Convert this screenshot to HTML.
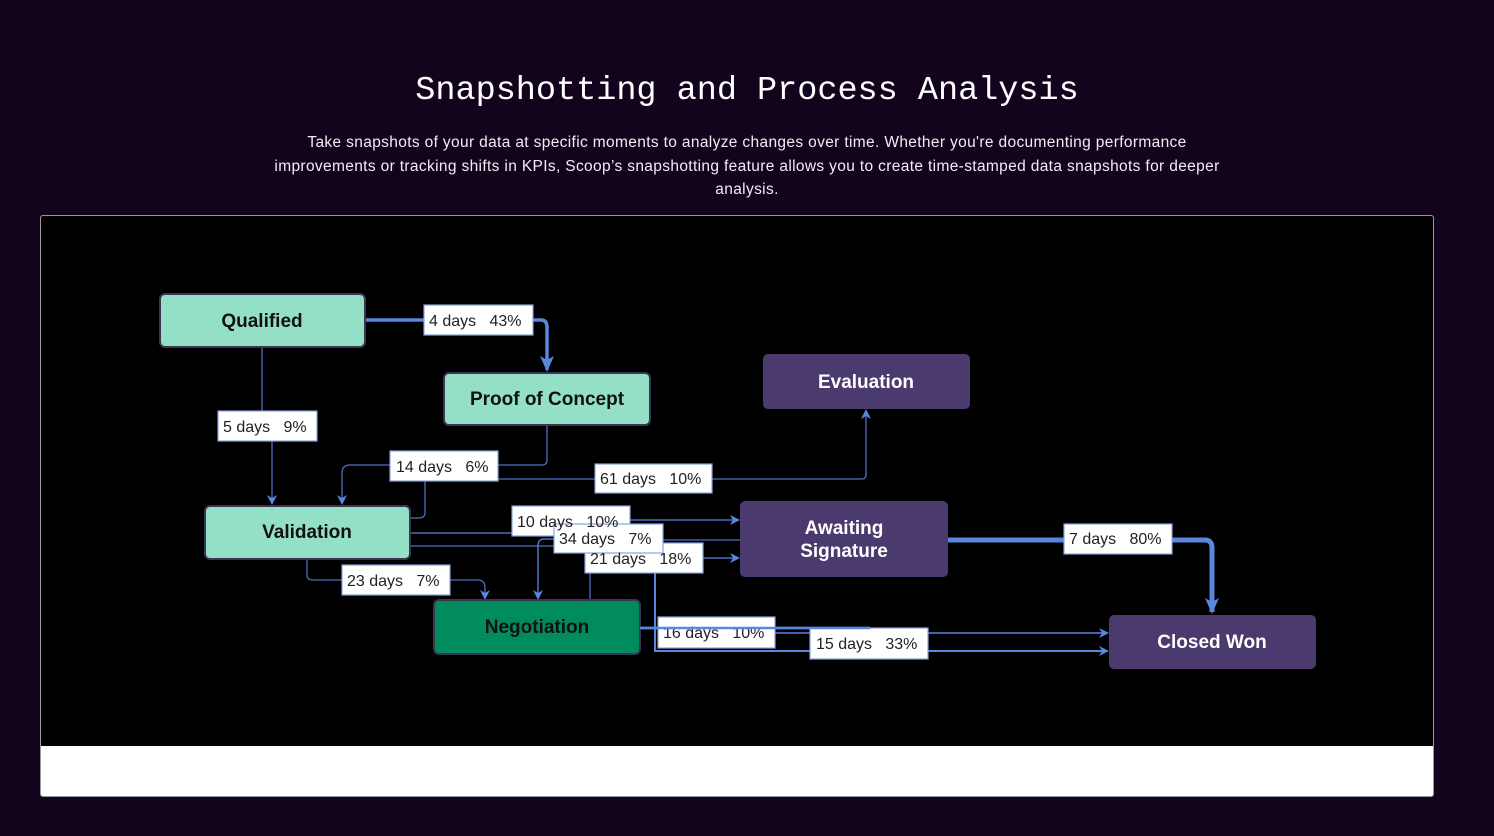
<!DOCTYPE html>
<html><head><meta charset="utf-8"><style>
html,body{margin:0;padding:0;background:#12041c;width:1494px;height:836px;overflow:hidden;font-family:"Liberation Sans",sans-serif}
.t{position:absolute;left:0;width:1494px;top:70px;text-align:center;color:#fff;font-family:"Liberation Mono",monospace;font-size:33.5px;line-height:42px}
.s{position:absolute;left:262px;width:970px;top:131px;text-align:center;color:#f0eef4;font-size:15.5px;line-height:23.5px;letter-spacing:0.35px}
.f{position:absolute;left:40px;top:215px;width:1392px;height:580px;border:1px solid #9a98a0;border-radius:3px;background:#fff;overflow:hidden}
.f .b{position:absolute;left:0;top:0;width:1392px;height:530px;background:#000}
svg{position:absolute;left:0;top:0}
</style></head><body>
<div class="t">Snapshotting and Process Analysis</div>
<div class="s">Take snapshots of your data at specific moments to analyze changes over time. Whether you're documenting performance improvements or tracking shifts in KPIs, Scoop’s snapshotting feature allows you to create time-stamped data snapshots for deeper analysis.</div>
<div class="f"><div class="b"></div></div>
<svg width="1494" height="836" viewBox="0 0 1494 836" font-family="Liberation Sans, sans-serif">
<defs>
<marker id="a" markerWidth="10" markerHeight="10" refX="8" refY="5" orient="auto" markerUnits="userSpaceOnUse"><path d="M0,0 L10,5 L0,10 L3,5 z" fill="#5b86e0"/></marker>
<marker id="A" markerWidth="16" markerHeight="14" refX="14" refY="7" orient="auto" markerUnits="userSpaceOnUse"><path d="M0,0 L16,7 L0,14 L4,7 z" fill="#5b86e0"/></marker>
</defs>
<g fill="none" stroke="#5b86e0" stroke-width="1.3">
<path d="M262,347 V411 M272,441 V503" stroke="#4d6fc0" marker-end="url(#a)"/>
<path d="M547,425 V460 Q547,465 542,465 H350 Q342,465 342,473 V503" stroke="#4d6fc0" marker-end="url(#a)"/>
<path d="M425,481 V513 Q425,518 418,518 H410" stroke="#4d6fc0"/>
<path d="M498,479 H862 Q866,479 866,474 V411" stroke="#4d6fc0" marker-end="url(#a)"/>
<path d="M410,533 H512 M630,520 H738" marker-end="url(#a)"/>
<path d="M410,546 H554 M663,540 H740" stroke="#4d6fc0"/>
<path d="M554,539 H544 Q538,539 538,546 V598" marker-end="url(#a)"/>
<path d="M703,558 H738" marker-end="url(#a)"/>
<path d="M590,600 V573" stroke="#4d6fc0"/>
<path d="M307,559 V575 Q307,580 313,580 H342 M450,580 H478 Q485,580 485,588 V598" stroke="#4d6fc0" marker-end="url(#a)"/>
<path d="M655,573 V651 H810 M928,651 H1107" stroke-width="2" marker-end="url(#a)"/>
<path d="M775,633 H1107" stroke-width="1.5" marker-end="url(#a)"/>
<path d="M640,628 H870" stroke-width="2.5"/>
<path d="M365,320 H424 M533,320 H541 Q547,320 547,327 V370" stroke-width="3.5" marker-end="url(#A)"/>
<path d="M948,540 H1064 M1172,540 H1205 Q1212,540 1212,548 V612" stroke-width="5" marker-end="url(#A)"/>
</g>
<g stroke="#3a3550" stroke-width="2">
<rect x="160" y="294" width="205" height="53" rx="5" fill="#94e0c6"/>
<rect x="444" y="373" width="206" height="52" rx="5" fill="#94e0c6"/>
<rect x="205" y="506" width="205" height="53" rx="5" fill="#94e0c6"/>
<rect x="434" y="600" width="206" height="54" rx="5" fill="#008c5c"/>
<rect x="763" y="354" width="207" height="55" rx="5" fill="#4a3a6e" stroke="none"/>
<rect x="740" y="501" width="208" height="76" rx="5" fill="#4a3a6e" stroke="none"/>
<rect x="1109" y="615" width="207" height="54" rx="5" fill="#4a3a6e" stroke="none"/>
</g>
<g font-weight="bold" font-size="19" text-anchor="middle">
<text x="262" y="327" fill="#111">Qualified</text>
<text x="547" y="405" fill="#111">Proof of Concept</text>
<text x="307" y="538" fill="#111">Validation</text>
<text x="537" y="633" fill="#111">Negotiation</text>
<text x="866" y="388" fill="#fff">Evaluation</text>
<text x="844" y="534" fill="#fff">Awaiting</text>
<text x="844" y="557" fill="#fff">Signature</text>
<text x="1212" y="648" fill="#fff">Closed Won</text>
</g>
<g font-size="16" fill="#222">
<g stroke="#8aa4dc" stroke-width="1.2" fill="#fff">
<rect x="424" y="305" width="109" height="30"/>
<rect x="218" y="411" width="99" height="30"/>
<rect x="390" y="451" width="108" height="30"/>
<rect x="595" y="464" width="117" height="29"/>
<rect x="342" y="565" width="108" height="30"/>
<rect x="512" y="506" width="118" height="30"/>
<rect x="585" y="543" width="118" height="30"/>
<rect x="554" y="524" width="109" height="29"/>
<rect x="658" y="617" width="117" height="31"/>
<rect x="810" y="628" width="118" height="31"/>
<rect x="1064" y="524" width="108" height="30"/>
</g>
<text x="429" y="326">4 days&#160;&#160;&#160;43%</text>
<text x="223" y="432">5 days&#160;&#160;&#160;9%</text>
<text x="396" y="472">14 days&#160;&#160;&#160;6%</text>
<text x="600" y="484">61 days&#160;&#160;&#160;10%</text>
<text x="347" y="586">23 days&#160;&#160;&#160;7%</text>
<text x="517" y="527">10 days&#160;&#160;&#160;10%</text>
<text x="590" y="564">21 days&#160;&#160;&#160;18%</text>
<text x="559" y="544">34 days&#160;&#160;&#160;7%</text>
<text x="663" y="638">16 days&#160;&#160;&#160;10%</text>
<text x="816" y="649">15 days&#160;&#160;&#160;33%</text>
<text x="1069" y="544">7 days&#160;&#160;&#160;80%</text>
</g>
<path d="M640,628 H870" stroke="#5b86e0" stroke-width="2.5"/>
</svg>
</body></html>
